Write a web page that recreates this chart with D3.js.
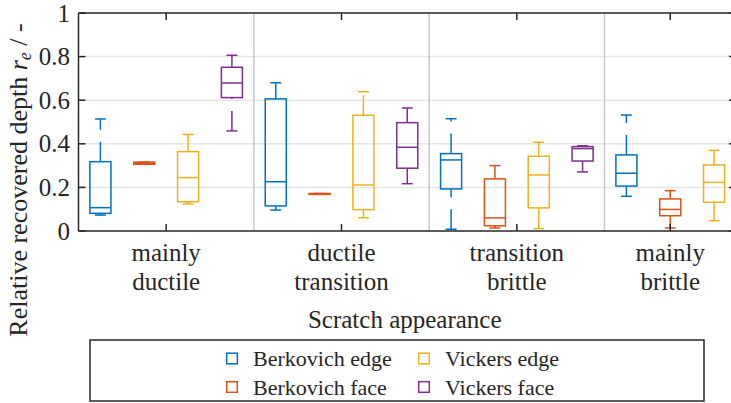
<!DOCTYPE html>
<html>
<head>
<meta charset="utf-8">
<script src="https://cdn.jsdelivr.net/npm/d3@7"></script>
</head>
<body style="margin:0">
<svg id="chart" width="731" height="403"></svg>
<script>
let categories = [['mainly', 'ductile'], ['ductile', 'transition'], ['transition', 'brittle'], ['mainly', 'brittle']];
let series_names = ['Berkovich edge', 'Berkovich face', 'Vickers edge', 'Vickers face'];
let series_colors = ['#0072BD', '#D95319', '#EDB120', '#7E2F8E'];
let y_ticks = [0, 0.2, 0.4, 0.6, 0.8, 1];

// [lower whisker, q1, median, q3, upper whisker] per category, null = no data
let berkovich_edge = [
  [0.073, 0.081, 0.107, 0.318, 0.514],
  [0.096, 0.115, 0.226, 0.606, 0.680],
  [0.008, 0.193, 0.326, 0.355, 0.515],
  [0.159, 0.206, 0.265, 0.349, 0.532]
];
let berkovich_face = [
  [0.306, 0.306, 0.311, 0.316, 0.316],
  [0.168, 0.168, 0.170, 0.172, 0.172],
  [0.014, 0.024, 0.060, 0.239, 0.300],
  [0.014, 0.070, 0.099, 0.147, 0.185]
];
let vickers_edge = [
  [0.124, 0.134, 0.245, 0.364, 0.443],
  [0.061, 0.098, 0.211, 0.531, 0.639],
  [0.011, 0.106, 0.257, 0.343, 0.407],
  [0.047, 0.132, 0.223, 0.303, 0.370]
];
let vickers_face = [
  [0.459, 0.612, 0.679, 0.751, 0.806],
  [0.217, 0.288, 0.384, 0.497, 0.564],
  [0.271, 0.321, 0.378, 0.387, 0.391],
  null
];
let all_series = [berkovich_edge, berkovich_face, vickers_edge, vickers_face];

let margin = {left: 78.5, right: 736, top: 13, bottom: 231};
let box_w = 0.48, cap_w = 0.25, tick_len = 7;
let axis_color = '#262626';
let font = 'Liberation Serif';

// lay the boxes out one after another, category by category
let boxes = [];
let cat_pos = [];
let pos = 0;
categories.forEach((c, ci) => {
  let first = pos + 1;
  all_series.forEach((s, si) => {
    if (s[ci] === null) return;
    pos += 1;
    let [lo, q1, med, q3, hi] = s[ci];
    boxes.push({pos: pos, series: si, lo: lo, q1: q1, med: med, q3: q3, hi: hi});
  });
  cat_pos.push({center: (first + pos) / 2, start: first - 0.5, end: pos + 0.5});
});

let x = d3.scaleLinear().domain([0.5, pos + 0.5]).range([margin.left, margin.right]);
let y = d3.scaleLinear().domain([0, 1]).range([margin.bottom, margin.top]);

let svg = d3.select('#chart');

// grid
svg.append('g').selectAll('line')
  .data(y_ticks.filter(d => d > 0 && d < 1))
  .enter().append('line')
  .attr('x1', margin.left).attr('x2', margin.right)
  .attr('y1', d => y(d)).attr('y2', d => y(d))
  .attr('stroke', '#e6e6e6').attr('stroke-width', 1.5);

// category separators
svg.append('g').selectAll('line')
  .data(cat_pos.slice(1))
  .enter().append('line')
  .attr('x1', d => x(d.start)).attr('x2', d => x(d.start))
  .attr('y1', margin.top).attr('y2', margin.bottom)
  .attr('stroke', '#c8c8c8').attr('stroke-width', 1.5);

// boxes
let g = svg.append('g').selectAll('g')
  .data(boxes)
  .enter().append('g')
  .attr('stroke', d => series_colors[d.series])
  .attr('stroke-width', 1.5)
  .attr('fill', 'none');

g.append('line')
  .attr('x1', d => x(d.pos)).attr('x2', d => x(d.pos))
  .attr('y1', d => y(d.q3)).attr('y2', d => y(d.hi))
  .attr('stroke-dasharray', '20,12');
g.append('line')
  .attr('x1', d => x(d.pos)).attr('x2', d => x(d.pos))
  .attr('y1', d => y(d.lo)).attr('y2', d => y(d.q1))
  .attr('stroke-dasharray', '20,12');
g.append('line')
  .attr('x1', d => x(d.pos - cap_w / 2)).attr('x2', d => x(d.pos + cap_w / 2))
  .attr('y1', d => y(d.hi)).attr('y2', d => y(d.hi));
g.append('line')
  .attr('x1', d => x(d.pos - cap_w / 2)).attr('x2', d => x(d.pos + cap_w / 2))
  .attr('y1', d => y(d.lo)).attr('y2', d => y(d.lo));
g.append('rect')
  .attr('x', d => x(d.pos - box_w / 2))
  .attr('width', d => x(d.pos + box_w / 2) - x(d.pos - box_w / 2))
  .attr('y', d => y(d.q3))
  .attr('height', d => y(d.q1) - y(d.q3));
g.append('line')
  .attr('x1', d => x(d.pos - box_w / 2)).attr('x2', d => x(d.pos + box_w / 2))
  .attr('y1', d => y(d.med)).attr('y2', d => y(d.med));

// axes frame
let frame = svg.append('g').attr('stroke', axis_color).attr('stroke-width', 1.5);
frame.append('line').attr('x1', margin.left).attr('x2', margin.right).attr('y1', margin.top).attr('y2', margin.top);
frame.append('line').attr('x1', margin.left).attr('x2', margin.right).attr('y1', margin.bottom).attr('y2', margin.bottom);
frame.append('line').attr('x1', margin.left).attr('x2', margin.left).attr('y1', margin.top).attr('y2', margin.bottom);
frame.append('line').attr('x1', margin.right).attr('x2', margin.right).attr('y1', margin.top).attr('y2', margin.bottom);

// y ticks (inward, both sides)
y_ticks.forEach(t => {
  frame.append('line').attr('x1', margin.left).attr('x2', margin.left + tick_len).attr('y1', y(t)).attr('y2', y(t));
  frame.append('line').attr('x1', margin.right - tick_len).attr('x2', margin.right).attr('y1', y(t)).attr('y2', y(t));
});
// x ticks (inward, top and bottom)
cat_pos.forEach(c => {
  frame.append('line').attr('x1', x(c.center)).attr('x2', x(c.center)).attr('y1', margin.top).attr('y2', margin.top + tick_len);
  frame.append('line').attr('x1', x(c.center)).attr('x2', x(c.center)).attr('y1', margin.bottom).attr('y2', margin.bottom - tick_len);
});

let labels = svg.append('g')
  .attr('font-family', font)
  .attr('font-size', 25)
  .attr('fill', axis_color);

labels.append('g').selectAll('text')
  .data(y_ticks)
  .enter().append('text')
  .attr('x', 70).attr('y', d => y(d) + 8.5)
  .attr('text-anchor', 'end')
  .text(d => d3.format('~g')(d));

let xl = labels.append('g').selectAll('text')
  .data(categories)
  .enter().append('text')
  .attr('text-anchor', 'middle');
xl.append('tspan').attr('x', (d, i) => x(cat_pos[i].center)).attr('y', 261).text(d => d[0]);
xl.append('tspan').attr('x', (d, i) => x(cat_pos[i].center)).attr('y', 289.5).text(d => d[1]);

labels.append('text')
  .attr('x', (margin.left + 731) / 2).attr('y', 328)
  .attr('text-anchor', 'middle')
  .text('Scratch appearance');

let yl = labels.append('text')
  .attr('transform', 'translate(27,180) rotate(-90)')
  .attr('text-anchor', 'middle')
  .attr('font-size', 26);
yl.append('tspan').text('Relative recovered depth ');
yl.append('tspan').attr('font-style', 'italic').text('r');
yl.append('tspan').attr('dy', 4).attr('font-size', 18).attr('font-style', 'italic').text('e');
yl.append('tspan').attr('dy', -4).text(' / -');

// legend
let legend = svg.append('g');
legend.append('rect')
  .attr('x', 90).attr('y', 340).attr('width', 614).attr('height', 61)
  .attr('fill', 'white').attr('stroke', axis_color).attr('stroke-width', 1.5);

let legend_x = [232, 424], legend_y = [358.5, 387];
let items = legend.selectAll('.legend-item')
  .data(series_names)
  .enter().append('g')
  .attr('class', 'legend-item')
  .attr('transform', (d, i) => `translate(${legend_x[Math.floor(i / 2)]},${legend_y[i % 2]})`);
items.append('rect')
  .attr('x', -5.3).attr('y', -5.3).attr('width', 10.6).attr('height', 10.6)
  .attr('fill', 'none').attr('stroke', (d, i) => series_colors[i]).attr('stroke-width', 1.5);
items.append('text')
  .attr('x', 21).attr('y', 7.5)
  .attr('font-family', font)
  .attr('font-size', 22)
  .attr('fill', axis_color)
  .text(d => d);
</script>
</body>
</html>
